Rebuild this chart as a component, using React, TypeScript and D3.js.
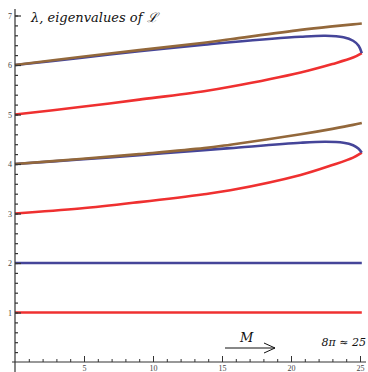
import { useEffect, useRef } from "react";
import * as d3 from "d3";

const mFlat = [0, 25.13];
const mGrid = [0, 4.7, 9, 13.7, 15.6, 20.7, 23, 24.5, 25.13];
const mBlue = [0, 4.7, 9, 13.7, 15.6, 20.7, 22.5, 23.8, 24.5, 24.9, 25.13];

const redFlat = [1, 1];
const blueFlat = [2, 2];
const redLow = [3.0, 3.1, 3.23, 3.39, 3.47, 3.78, 3.98, 4.13, 4.23];
const brownLow = [4.0, 4.1, 4.2, 4.32, 4.39, 4.6, 4.71, 4.79, 4.83];
const blueLow = [4.0, 4.09, 4.18, 4.28, 4.32, 4.43, 4.45, 4.43, 4.38, 4.31, 4.23];
const redHigh = [5.0, 5.15, 5.3, 5.47, 5.56, 5.85, 6.02, 6.15, 6.24];
const brownHigh = [6.0, 6.16, 6.3, 6.45, 6.52, 6.71, 6.78, 6.82, 6.84];
const blueHigh = [6.0, 6.14, 6.28, 6.41, 6.46, 6.57, 6.59, 6.56, 6.49, 6.39, 6.24];

const xTicks = [5, 10, 15, 20, 25];
const yTicks = [1, 2, 3, 4, 5, 6, 7];

const RED = "#ef3030";
const BLUE = "#454599";
const BROWN = "#93683b";

export default function App() {
  const width = 368;
  const height = 372;
  const xAxis = useRef(null);
  const yAxis = useRef(null);

  const x = d3.scaleLinear([0, 25], [15, 360]);
  const y = d3.scaleLinear([0, 7], [362, 15.5]);

  const line = d3
    .line<[number, number]>()
    .x((d) => x(d[0]))
    .y((d) => y(d[1]))
    .curve(d3.curveCatmullRom.alpha(0.5));

  const zip = (ms: number[], vs: number[]) =>
    ms.map((m, i) => [m, vs[i]] as [number, number]);

  const series = [
    { ms: mFlat, vs: redFlat, c: RED },
    { ms: mFlat, vs: blueFlat, c: BLUE },
    { ms: mGrid, vs: redLow, c: RED },
    { ms: mBlue, vs: blueLow, c: BLUE },
    { ms: mGrid, vs: brownLow, c: BROWN },
    { ms: mGrid, vs: redHigh, c: RED },
    { ms: mBlue, vs: blueHigh, c: BLUE },
    { ms: mGrid, vs: brownHigh, c: BROWN },
  ];

  useEffect(() => {
    const gx = d3.select(xAxis.current);
    gx.selectAll("*").remove();
    gx.attr("transform", `translate(0,${y(0)})`);
    gx.append("g").call(
      d3.axisBottom(x).tickValues(d3.range(1, 26)).tickSize(-3).tickFormat(() => "")
    );
    gx.append("g").call(
      d3.axisBottom(x).tickValues(xTicks).tickSize(-6).tickPadding(3).tickFormat(d3.format("d"))
    );
    gx.selectAll(".domain").remove();
    gx.selectAll("line").attr("stroke", "#333").attr("stroke-width", 1);
    gx.selectAll("text")
      .attr("font-family", "Liberation Serif, serif")
      .attr("font-size", 8)
      .attr("fill", "#444");

    const gy = d3.select(yAxis.current);
    gy.selectAll("*").remove();
    gy.attr("transform", `translate(${x(0)},0)`);
    gy.append("g").call(
      d3.axisLeft(y).tickValues(d3.range(0.2, 7.01, 0.2)).tickSize(-3).tickFormat(() => "")
    );
    gy.append("g").call(
      d3.axisLeft(y).tickValues(yTicks).tickSize(-6).tickPadding(3).tickFormat(d3.format("d"))
    );
    gy.selectAll(".domain").remove();
    gy.selectAll("line").attr("stroke", "#333").attr("stroke-width", 1.2);
    gy.selectAll("text")
      .attr("font-family", "Liberation Serif, serif")
      .attr("font-size", 8)
      .attr("fill", "#444");
  }, []);

  return (
    <svg
      width={width}
      height={height}
      style={{ position: "absolute", left: 0, top: 0, background: "#fff" }}
    >
      <g fill="none" strokeWidth={2.6} strokeLinecap="butt">
        {series.map((s, i) => (
          <path key={i} d={line(zip(s.ms, s.vs)) ?? ""} stroke={s.c} />
        ))}
      </g>
      <line x1={12} x2={366} y1={y(0)} y2={y(0)} stroke="#333" strokeWidth={1.2} />
      <line x1={x(0)} x2={x(0)} y1={9} y2={372} stroke="#333" strokeWidth={1.2} />
      <g ref={xAxis}></g>
      <g ref={yAxis}></g>
      <g fill="#111" fontFamily="DejaVu Serif, serif" fontStyle="italic">
        <text x={31} y={22} fontSize={13}>
          λ, eigenvalues of ℒ
        </text>
        <text x={240} y={342} fontSize={13}>
          M
        </text>
        <text x={366} y={346} fontSize={11} textAnchor="end">
          8π ≈ 25
        </text>
      </g>
      <g stroke="#111" strokeWidth={1} fill="none">
        <line x1={225} x2={275} y1={348} y2={348} />
        <polyline points="264,343 275,348 264,353" />
      </g>
    </svg>
  );
}
